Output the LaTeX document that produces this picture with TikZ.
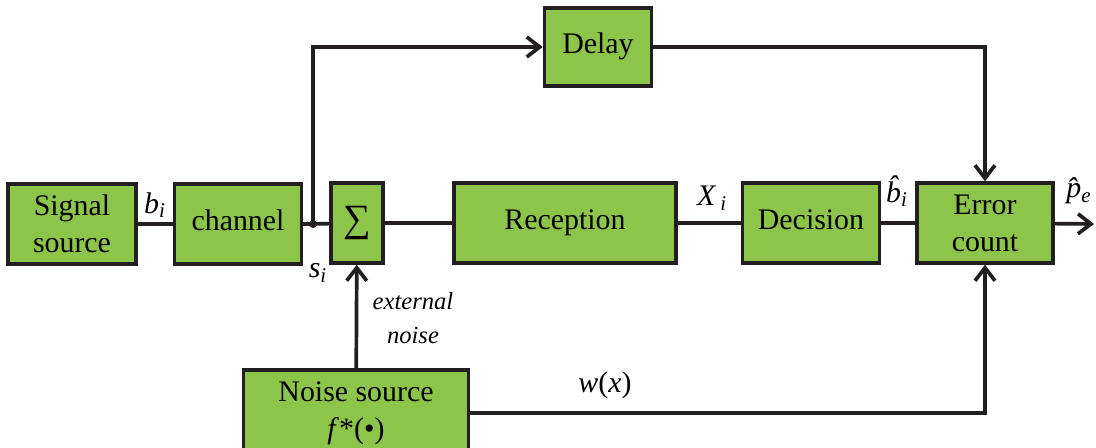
\documentclass[tikz,border=0pt]{standalone}
\usepackage{fontspec}
\setmainfont{Liberation Serif}
\usetikzlibrary{arrows.meta}
\definecolor{blockgreen}{RGB}{141,196,74}
\definecolor{linegray}{RGB}{35,31,32}

\begin{document}
\begin{tikzpicture}[x=0.02cm,y=-0.02cm,
  blk/.style={draw=linegray, line width=2pt, fill=blockgreen, minimum height=1.6cm,
    align=center, inner sep=0pt, font=\fontsize{17}{21}\selectfont},
  one/.style={text height=1em, text depth=0.22em},
  lbl/.style={font=\fontsize{17}{21}\selectfont\itshape, inner sep=0pt},
  wire/.style={draw=linegray, line width=2.1pt},
  arr/.style={wire, -{Straight Barb[length=2.6mm,width=4mm]}}]

  \useasboundingbox (0,0) rectangle (1096,448);

  % blocks
  \draw (72,224)  node[blk, minimum width=2.56cm] (v1) {Signal\\source};
  \draw (238,224) node[blk, one, minimum width=2.54cm] (v2) {channel};
  \draw (357,223) node[blk, minimum width=1.04cm, font=\fontsize{22}{24}\selectfont] (v3) {∑};
  \draw (565,223) node[blk, one, minimum width=4.44cm] (v4) {Reception};
  \draw (811,223) node[blk, one, minimum width=2.74cm] (v5) {Decision};
  \draw (985,223) node[blk, minimum width=2.72cm] (v6) {Error\\count};
  \draw (598,47)  node[blk, one, minimum width=2.14cm, minimum height=1.56cm] (v7) {Delay};
  \draw (356,413) node[blk, minimum width=4.5cm, minimum height=1.72cm] (v8)
    {Noise source\\\textit{f}*(•)};

  % branch point
  \coordinate (c1) at (313,224);
  \coordinate (c2) at (1094,224);
  \fill[linegray] (c1) circle (4);

  % signal path
  \draw[wire] (v1) -- (v2);
  \draw[wire] (v2) -- (c1) -- (v3);
  \draw[wire] (v3) -- (v4);
  \draw[wire] (v4) -- (v5);
  \draw[wire] (v5) -- (v6);
  \draw[arr]  (v6) -- (c2);
  \draw[arr]  (c1) |- (v7);
  \draw[arr]  (v7) -| (v6);
  \draw[arr]  (v8) -- (v3);
  \draw[arr]  (v8) -| (v6);

  % labels
  \draw (155,205) node[lbl] (l1) {b\textsubscript{i}};
  \draw (318,273) node[lbl] (l2) {s\textsubscript{i}};
  \draw (413,318) node[lbl, align=center, font=\fontsize{14}{19}\selectfont\itshape] (l3)
    {external\\noise};
  \draw (712,198) node[lbl] (l4) {X\,\textsubscript{i}};
  \draw (897,191) node[lbl] (l5) {\^{b}\textsubscript{i}};
  \draw (1079,191) node[lbl] (l6) {\^{p}\textsubscript{e}};
  \draw (605,385) node[font=\fontsize{17}{21}\selectfont, inner sep=0pt] (l7)
    {\textit{w}(\textit{x})};

\end{tikzpicture}
\end{document}
